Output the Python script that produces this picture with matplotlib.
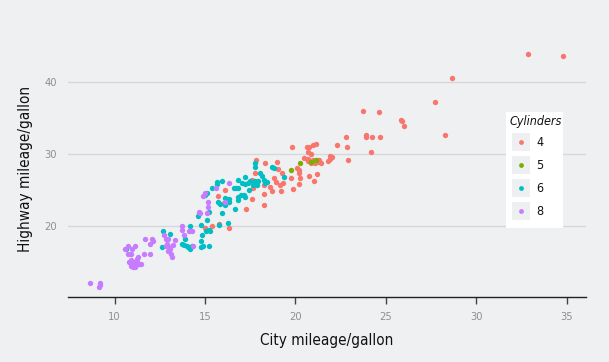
import matplotlib
matplotlib.use("Agg")
import matplotlib.pyplot as plt
from matplotlib.patches import Rectangle
from matplotlib import font_manager

# mpg, jittered city vs highway
cyl4_cty = [32.85, 34.8, 28.68, 27.71, 28.27, 23.71, 24.62, 25.84, 25.9, 26.01,
            23.89, 23.89, 24.25, 24.66, 22.79, 24.16, 22.32, 22.86, 22.9, 21.89,
            22.0, 21.78, 21.9, 21.33, 19.82, 20.64, 20.77, 20.96, 21.13, 20.68,
            20.86, 20.68, 20.86, 21.07, 21.41, 20.1, 20.17, 20.2, 20.77, 21.18,
            21.0, 20.23, 19.74, 20.17, 19.88, 18.96, 19.02, 18.81, 18.92, 19.14,
            19.18, 18.71, 19.24, 18.32, 18.28, 18.24, 18.28, 17.8, 17.78, 17.59,
            17.63, 17.59, 17.24, 16.08, 15.7, 16.04, 16.34, 15.76, 15.37, 14.99,
            20.95, 21.25, 20.7, 19.3, 18.6, 20.5]
cyl4_hwy = [43.95, 43.6, 40.65, 37.3, 32.7, 35.95, 35.9, 34.7, 34.6, 33.9,
            32.65, 32.3, 32.3, 32.3, 32.3, 30.3, 31.3, 30.9, 29.2, 29.7,
            29.6, 29.0, 29.3, 29.2, 31.0, 31.0, 31.0, 31.2, 31.4, 30.3,
            30.0, 29.0, 28.8, 28.7, 28.7, 28.0, 27.7, 27.3, 26.9, 27.2,
            26.2, 26.7, 26.6, 25.8, 25.1, 28.9, 27.95, 26.6, 26.1, 25.7,
            24.8, 24.9, 27.3, 28.8, 25.7, 24.4, 22.9, 29.2, 27.3, 26.3,
            25.2, 23.7, 22.3, 25.0, 24.2, 23.1, 19.7, 20.2, 20.0, 19.7,
            29.1, 28.9, 29.3, 26.0, 25.4, 29.4]

cyl5_cty = [19.74, 20.25, 21.12, 20.85]
cyl5_hwy = [27.8, 28.8, 29.2, 28.9]

cyl6_cty = [17.78, 17.74, 18.71, 18.79, 19.35, 18.02, 18.28, 18.34, 18.45, 17.95,
            17.74, 17.48, 17.63, 17.85, 17.2, 17.2, 17.37, 16.81, 16.71, 16.81,
            17.42, 17.16, 16.99, 16.81, 17.2, 16.81, 16.3, 16.34, 16.08, 15.95,
            15.65, 15.65, 15.37, 15.12, 15.02, 15.7, 15.8, 16.08, 16.64, 15.95,
            15.22, 15.12, 14.62, 14.77, 14.81, 14.79, 14.75, 14.9, 15.22, 15.05,
            15.22, 15.78, 16.28, 13.87, 14.19, 13.83, 14.06, 14.19, 13.98, 13.72,
            13.05, 12.69, 12.63, 10.64, 17.05, 16.6, 18.15, 14.3, 15.3]
cyl6_hwy = [28.7, 28.2, 28.2, 28.1, 26.8, 27.3, 26.4, 26.0, 26.1, 26.2,
            26.2, 26.2, 25.7, 25.7, 26.8, 25.8, 26.0, 26.4, 25.3, 25.2,
            25.0, 24.3, 24.3, 24.0, 24.0, 23.6, 23.7, 23.3, 23.9, 26.2,
            26.1, 25.8, 25.2, 24.6, 24.3, 23.3, 23.0, 22.9, 22.3, 21.7,
            21.95, 20.8, 21.3, 20.1, 18.7, 17.9, 17.0, 17.1, 17.1, 19.3,
            19.4, 20.1, 20.4, 18.1, 20.0, 17.3, 17.0, 16.7, 17.15, 17.4,
            18.9, 19.3, 17.0, 16.7, 25.9, 25.3, 26.9, 17.2, 19.3]

cyl8_cty = [8.65, 9.2, 9.2, 9.14, 10.58, 10.75, 11.14, 10.97, 10.75, 10.92,
            10.82, 10.97, 11.07, 11.18, 11.33, 10.88, 11.22, 11.31, 11.44, 11.14,
            11.63, 11.67, 11.93, 12.04, 11.93, 12.1, 12.73, 12.86, 12.97, 12.84,
            13.05, 13.22, 13.12, 12.97, 13.18, 13.33, 13.7, 13.7, 13.83, 14.13,
            14.26, 14.34, 14.64, 14.73, 14.88, 14.99, 15.14, 15.16, 15.1, 15.61,
            16.34, 16.13, 11.0, 11.25, 10.9, 13.0, 12.9]
cyl8_hwy = [12.05, 12.05, 11.7, 11.5, 16.8, 17.2, 17.2, 16.7, 16.05, 16.1,
            14.9, 14.65, 15.0, 14.5, 14.7, 14.4, 15.4, 15.7, 14.7, 14.3,
            16.0, 18.1, 17.4, 18.2, 16.1, 17.8, 18.7, 18.2, 18.2, 17.2,
            16.8, 17.3, 16.1, 16.4, 15.6, 18.0, 19.9, 19.4, 18.7, 19.2,
            19.3, 17.1, 21.9, 21.7, 24.1, 24.5, 23.35, 22.65, 21.7, 25.3,
            25.9, 23.3, 14.2, 14.9, 15.2, 17.0, 17.4]

groups = ["4", "5", "6", "8"]
colors = ["#F8766D", "#7CAE00", "#00BFC4", "#C77CFF"]

# narrow face if the system has one
names = {f.name for f in font_manager.fontManager.ttflist}
if 'Liberation Sans Narrow' in names:
    plt.rcParams['font.family'] = ['Liberation Sans Narrow', 'DejaVu Sans']
else:
    plt.rcParams['font.family'] = ['DejaVu Sans']
    plt.rcParams['font.stretch'] = 'condensed'

bg = "#EFF0F2"
fig = plt.figure(figsize=(6.09, 3.62), dpi=100, facecolor=bg)
W, H = 609, 362
ax = fig.add_axes([68 / W, (H - 296.7) / H, (585.6 - 68) / W, (296.7 - 42) / H])
ax.set_facecolor(bg)

series = [(cyl4_cty, cyl4_hwy), (cyl5_cty, cyl5_hwy),
          (cyl6_cty, cyl6_hwy), (cyl8_cty, cyl8_hwy)]
for (xs, ys), c in zip(series, colors):
    ax.scatter(xs, ys, s=15, color=c, linewidths=0, zorder=3)

ax.set_xlim(7.42, 36.05)
ax.set_ylim(10.1, 45.6)
ax.set_xticks([10, 15, 20, 25, 30, 35])
ax.set_yticks([20, 30, 40])
ax.grid(axis='y', color="#D6D7D9", linewidth=1.0, zorder=0)
ax.set_axisbelow(True)
for side in ["top", "right", "left"]:
    ax.spines[side].set_visible(False)
ax.spines["bottom"].set_color("#222222")
ax.spines["bottom"].set_linewidth(1.0)
ax.tick_params(axis='x', length=5, width=1, color="#444444", labelcolor="#8F8F8F",
               labelsize=8, pad=6)
ax.tick_params(axis='y', length=0, labelcolor="#8F8F8F", labelsize=8, pad=8)
ax.set_xlabel("City mileage/gallon", fontsize=11, color="#111111", labelpad=8)
ax.set_ylabel("Highway mileage/gallon", fontsize=11, color="#111111", labelpad=8)

# legend panel
lax = fig.add_axes([505.5 / W, (H - 228) / H, 57.5 / W, 116 / H])
lax.set_xlim(0, 57.5)
lax.set_ylim(116, 0)
lax.set_facecolor("white")
for s in lax.spines.values():
    s.set_visible(False)
lax.set_xticks([])
lax.set_yticks([])
lax.text(4, 9, "Cylinders", fontsize=9, style='italic', va='center', ha='left',
         color="#111111")
for i, (g, c) in enumerate(zip(groups, colors)):
    y0 = 21 + i * 23
    lax.add_patch(Rectangle((6, y0), 18, 18, facecolor="#EEEFF1", edgecolor="none"))
    lax.scatter([15], [y0 + 9], s=12, color=c, linewidths=0)
    lax.text(31, y0 + 9.5, g, fontsize=9, va='center', ha='left', color="#111111")

fig.savefig("out.png", dpi=100, facecolor=bg)
